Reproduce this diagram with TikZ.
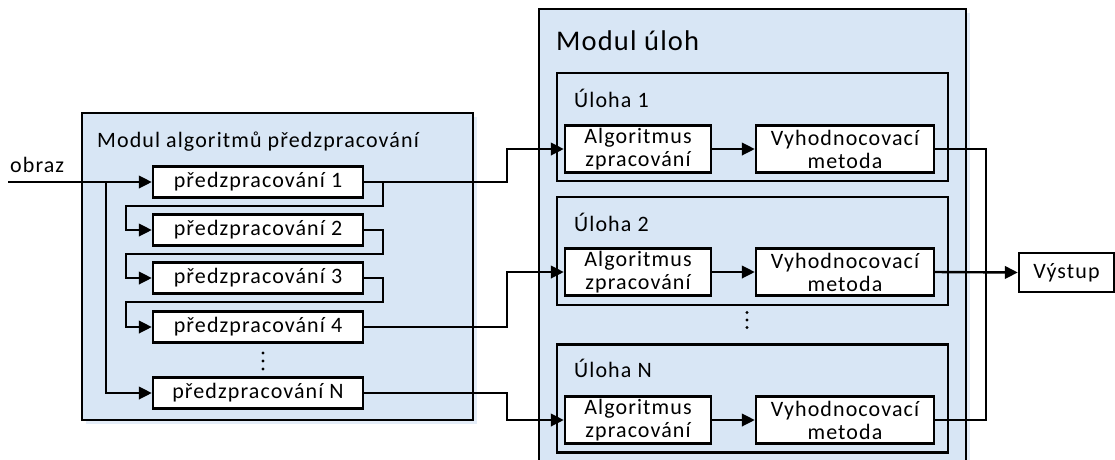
\documentclass[tikz,border=0pt]{standalone}
\usepackage{fontspec}
\setmainfont{Carlito}[LetterSpace=5]
\usetikzlibrary{arrows.meta,shadows}

\definecolor{panel}{RGB}{216,230,245}
\definecolor{panelshadow}{RGB}{228,237,248}

\tikzset{
  wire/.style={line width=2.4pt, line join=miter},
  arr/.style={wire, -{Triangle[length=13pt,width=12.5pt]}},
  module/.style={draw, line width=2.4pt, fill=panel, inner sep=0pt,
    drop shadow={shadow xshift=4pt, shadow yshift=-4pt, fill=panelshadow, opacity=1}},
  task/.style={draw, line width=2.4pt, fill=panel, inner sep=0pt,
    minimum width=391pt, minimum height=108pt},
  prebox/.style={draw, line width=2.4pt, fill=white, inner sep=0pt,
    minimum width=210pt, minimum height=31pt, font=\bodyfont},
  algbox/.style={draw, line width=2.4pt, fill=white, inner sep=0pt, align=center,
    minimum width=146pt, minimum height=47pt, font=\bodyfont},
  evalbox/.style={draw, line width=2.4pt, fill=white, inner sep=0pt, align=center,
    minimum width=178pt, minimum height=47pt, font=\bodyfont},
  label/.style={anchor=base west, inner sep=0pt, font=\bodyfont},
  biglabel/.style={anchor=base west, inner sep=0pt, font=\bigfont},
  dot/.style={fill=black, radius=1.6pt}
}
\newcommand{\bodyfont}{\fontsize{22}{23}\selectfont}
\newcommand{\bigfont}{\fontsize{28.5}{30}\selectfont\addfontfeature{LetterSpace=4}}

\begin{document}
\begin{tikzpicture}[x=1pt,y=-1pt]
\useasboundingbox (0,0) rectangle (1115,459);
\clip (0,0) rectangle (1115,459);

% ---- preprocessing module ----
\node[module, minimum width=391pt, minimum height=307pt] (modA) at (277.5,266.5) {};
\node[label] (titleA) at (97,147) {Modul algoritmů předzpracování};

\node[prebox] (pre1) at (258,182) {předzpracování 1};
\node[prebox] (pre2) at (258,230) {předzpracování 2};
\node[prebox] (pre3) at (258,278) {předzpracování 3};
\node[prebox] (pre4) at (258,327) {předzpracování 4};
\node[prebox] (preN) at (258,393) {předzpracování N};

% vertical ellipsis between step 4 and step N
\coordinate (dotsA) at (263,361);
\foreach \dy in {-8,0,8} \fill[dot] ([yshift=\dy pt]dotsA) circle;

% ---- task module ----
\node[module, minimum width=427pt, minimum height=480pt] (modB) at (752.5,249) {};
\node[biglabel] (titleB) at (556,50) {Modul úloh};

\node[task] (task1) at (752.5,127) {};
\node[task] (task2) at (752.5,251) {};
\node[task] (taskN) at (752.5,398.5) {};
\node[label] (t1lab) at (574,107) {Úloha 1};
\node[label] (t2lab) at (574,231) {Úloha 2};
\node[label] (tNlab) at (574,377) {Úloha N};

% vertical ellipsis between task 2 and task N
\coordinate (dotsB) at (747,320);
\foreach \dy in {-7.5,0,7.5} \fill[dot] ([yshift=\dy pt]dotsB) circle;

\node[algbox] (alg1) at (638,149) {Algoritmus\\zpracování};
\node[algbox] (alg2) at (638,272) {Algoritmus\\zpracování};
\node[algbox] (algN) at (638,420) {Algoritmus\\zpracování};
\node[evalbox] (ev1) at (845,149) {Vyhodnocovací\\metoda};
\node[evalbox] (ev2) at (845,272) {Vyhodnocovací\\metoda};
\node[evalbox] (evN) at (845,420) {Vyhodnocovací\\metoda};

% ---- output ----
\node[draw, line width=2.4pt, fill=white, inner sep=0pt, minimum width=95pt,
  minimum height=39pt, font=\bodyfont] (out) at (1066.5,272.5) {Výstup};

% ---- input ----
\coordinate (in) at (8,182);
\coordinate (bus) at (106,182);
\node[label] (inlab) at (10,172) {obraz};

\draw[arr] (in) -- (pre1.west);
\draw[arr] (bus) |- (preN.west);

% chained preprocessing steps
\draw[arr] (pre1.east) -- ++(19,0) -- ++(0,24) -| ([xshift=-26pt]pre2.west) -- (pre2.west);
\draw[arr] (pre2.east) -- ++(19,0) -- ++(0,24) -| ([xshift=-26pt]pre3.west) -- (pre3.west);
\draw[arr] (pre3.east) -- ++(19,0) -- ++(0,24) -| ([xshift=-26pt]pre4.west) -- (pre4.west);

% preprocessed images into the tasks
\draw[arr] (pre1.east) -| ([xshift=-57pt]alg1.west) -- (alg1.west);
\draw[arr] (pre4.east) -| ([xshift=-57pt]alg2.west) -- (alg2.west);
\draw[arr] (preN.east) -| ([xshift=-57pt]algN.west) -- (algN.west);

% inside each task
\draw[arr] (alg1) -- (ev1);
\draw[arr] (alg2) -- (ev2);
\draw[arr] (algN) -- (evN);

% results merged into the output
\coordinate (merge) at (986,272);
\draw[wire] (ev1.east) -| (merge);
\draw[wire] (evN.east) -| (merge);
\draw[arr] (ev2.east) -- (out.west);
\end{tikzpicture}
\end{document}
